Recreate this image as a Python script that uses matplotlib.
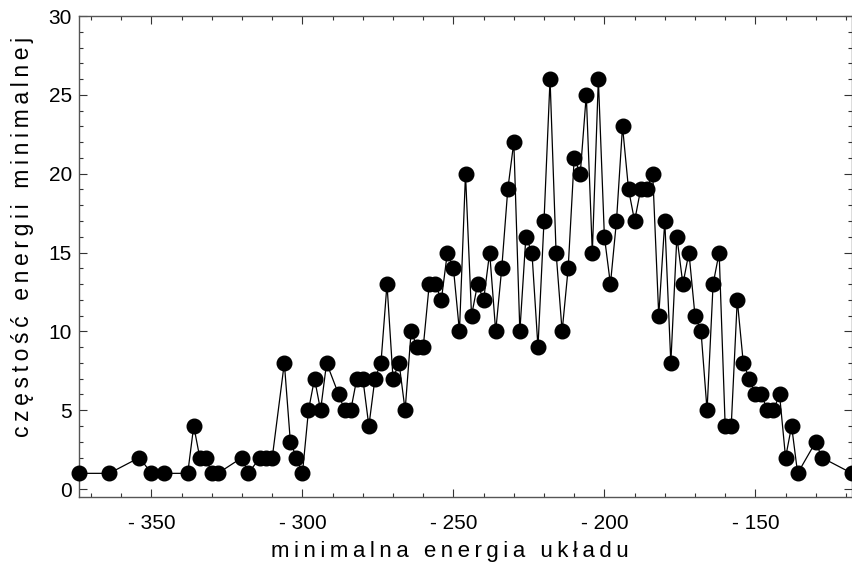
import matplotlib
matplotlib.use('Agg')
import matplotlib.pyplot as plt
from matplotlib.ticker import MultipleLocator, FuncFormatter

# minimal energy of the system and how often it was found
energy = [-374, -364, -354, -350, -346, -338, -336, -334, -332, -330, -328,
          -320, -318, -314, -312, -310, -306, -304, -302, -300, -298, -296,
          -294, -292, -288, -286, -284, -282, -280, -278, -276, -274, -272,
          -270, -268, -266, -264, -262, -260, -258, -256, -254, -252, -250,
          -248, -246, -244, -242, -240, -238, -236, -234, -232, -230, -228,
          -226, -224, -222, -220, -218, -216, -214, -212, -210, -208, -206,
          -204, -202, -200, -198, -196, -194, -192, -190, -188, -186, -184,
          -182, -180, -178, -176, -174, -172, -170, -168, -166, -164, -162,
          -160, -158, -156, -154, -152, -150, -148, -146, -144, -142, -140,
          -138, -136, -130, -128, -118]
freq = [1, 1, 2, 1, 1, 1, 4, 2, 2, 1, 1,
        2, 1, 2, 2, 2, 8, 3, 2, 1, 5, 7,
        5, 8, 6, 5, 5, 7, 7, 4, 7, 8, 13,
        7, 8, 5, 10, 9, 9, 13, 13, 12, 15, 14,
        10, 20, 11, 13, 12, 15, 10, 14, 19, 22, 10,
        16, 15, 9, 17, 26, 15, 10, 14, 21, 20, 25,
        15, 26, 16, 13, 17, 23, 19, 17, 19, 19, 20,
        11, 17, 8, 16, 13, 15, 11, 10, 5, 13, 15,
        4, 4, 12, 8, 7, 6, 6, 5, 5, 6, 2,
        4, 1, 3, 2, 1]

xlab = "minimalna energia układu"
ylab = "częstość energii minimalnej"


def spaced(s):
    # letter-spaced text like in the original (thin space between every char)
    return "\u2009".join(s)


plt.rcParams['font.family'] = ['Liberation Sans', 'DejaVu Sans']

fig = plt.figure(figsize=(8.52, 5.67), dpi=100)
ax = fig.add_axes([79 / 852, 1 - 497 / 567, 1 - 79 / 852, (497 - 16) / 567])

ax.plot(energy, freq, color='black', linewidth=0.9, marker='o',
        markersize=10.5, markerfacecolor='black', markeredgecolor='black',
        clip_on=False, zorder=3)

ax.set_xlim(-374, -118)
ax.set_ylim(-0.5, 30)

ax.xaxis.set_major_locator(MultipleLocator(50))
ax.xaxis.set_minor_locator(MultipleLocator(10))
ax.yaxis.set_major_locator(MultipleLocator(5))
ax.yaxis.set_minor_locator(MultipleLocator(1))
ax.xaxis.set_major_formatter(FuncFormatter(lambda v, p: "- %d" % abs(v) if v < 0 else "%d" % v))

ax.tick_params(which='both', direction='in', top=True, right=True,
               color='#333333', labelsize=15)
ax.tick_params(which='major', length=6, width=0.8)
ax.tick_params(which='minor', length=3, width=0.8)
ax.tick_params(axis='x', pad=12)
ax.tick_params(axis='y', pad=5)

for s in ax.spines.values():
    s.set_color('#555555')
    s.set_linewidth(1.0)

ax.set_xlabel(spaced(xlab), fontsize=16)
ax.set_ylabel(spaced(ylab), fontsize=16.5)
ax.xaxis.set_label_coords(0.48, -0.092)
ax.yaxis.set_label_coords(-0.058, 0.54)

fig.savefig('out.png', dpi=100)
